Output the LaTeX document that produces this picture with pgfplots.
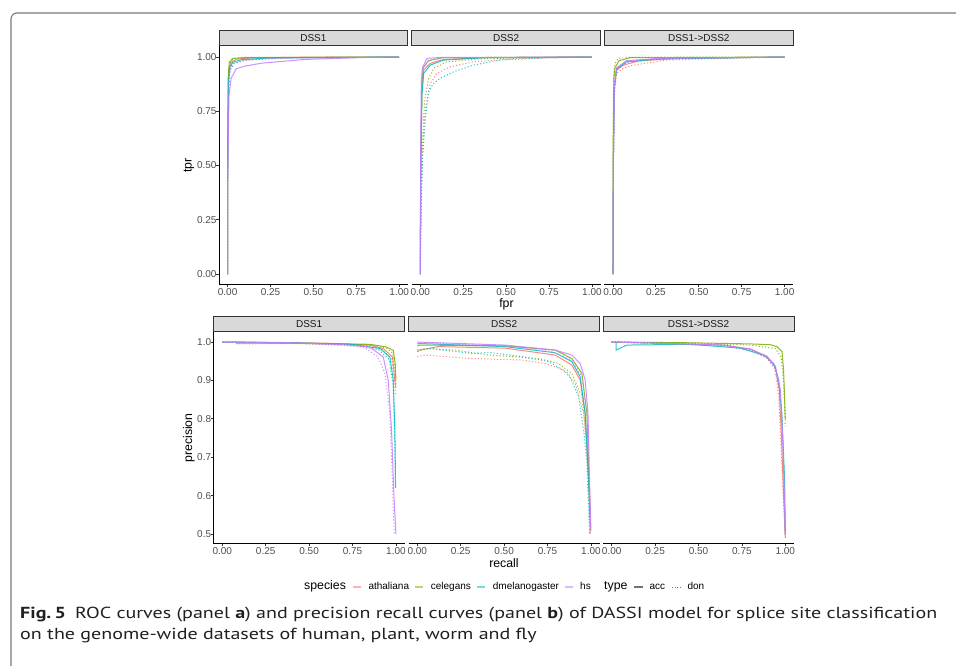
\documentclass[border=0pt]{standalone}
\usepackage{fontspec}
\setmainfont{Liberation Sans}
\newfontfamily\capfont{PT Sans}
\usepackage{graphicx}
\usepackage{pgfplots}
\pgfplotsset{compat=1.18}

\definecolor{cath}{HTML}{F8766D}
\definecolor{ccel}{HTML}{7CAE00}
\definecolor{cdme}{HTML}{00BFC4}
\definecolor{chs}{HTML}{C77CFF}
\definecolor{tickc}{HTML}{333333}
\definecolor{labc}{HTML}{4D4D4D}
\definecolor{stripf}{HTML}{D9D9D9}
\definecolor{framec}{HTML}{7A7A7A}
\definecolor{capc}{HTML}{231F20}

\newcommand\tickfont{\fontsize{10}{11}\selectfont}
\newcommand\titlefont{\fontsize{12.3}{14}\selectfont}

\tikzset{
  ath/.style={draw=cath}, cel/.style={draw=ccel},
  dme/.style={draw=cdme}, hs/.style={draw=chs},
  acc/.style={solid}, don/.style={dash pattern=on 1.1pt off 2.1pt},
}

\pgfplotsset{
  panel/.style={
    scale only axis, anchor=south west,
    xmin=-0.05, xmax=1.05,
    axis x line*=bottom,
    axis line style={line width=1pt, black},
    tick style={tickc, line width=0.8pt},
    major tick length=2.6pt,
    tick align=outside,
    xtick={0,0.25,0.5,0.75,1},
    xticklabels={0.00,0.25,0.50,0.75,1.00},
    xticklabel style={font=\tickfont, text=labc, inner sep=0pt, anchor=north, yshift=-0.7pt},
    yticklabel style={font=\tickfont, text=labc, inner sep=0pt, anchor=east, xshift=0.3pt},
    every axis plot/.append style={line width=1pt, draw opacity=0.85, mark=none},
  },
  roc/.style={panel, width=188.8pt, height=238.7pt, ymin=-0.05, ymax=1.05},
  pr/.style={panel, width=191pt, height=211.2pt, ymin=0.475, ymax=1.025},
  first/.style={axis y line*=left},
  rest/.style={axis y line=none, ytick=\empty},
}

\begin{document}
\begin{tikzpicture}[x=1pt, y=1pt]
\useasboundingbox (0,0) rectangle (956,666);

% ---------- ROC, DSS1
\begin{axis}[roc, first, at={(219pt,381.1pt)},
  ytick={0,0.25,0.5,0.75,1}, yticklabels={0.00,0.25,0.50,0.75,1.00}]
\addplot[ath,acc] coordinates {(0,0)(0.001,0.5)(0.004,0.86)(0.01,0.95)(0.02,0.975)(0.05,0.99)(0.15,0.996)(0.4,0.999)(1,1)};
\addplot[ath,don] coordinates {(0,0)(0.001,0.45)(0.005,0.85)(0.012,0.94)(0.03,0.972)(0.08,0.986)(0.2,0.994)(0.5,0.998)(1,1)};
\addplot[cel,acc] coordinates {(0,0)(0.001,0.6)(0.004,0.92)(0.01,0.975)(0.03,0.994)(0.1,0.998)(1,1)};
\addplot[cel,don] coordinates {(0,0)(0.001,0.55)(0.005,0.9)(0.012,0.966)(0.03,0.99)(0.1,0.997)(1,1)};
\addplot[dme,acc] coordinates {(0,0)(0.001,0.5)(0.005,0.88)(0.012,0.95)(0.03,0.976)(0.08,0.988)(0.25,0.996)(1,1)};
\addplot[dme,don] coordinates {(0,0)(0.001,0.45)(0.006,0.86)(0.015,0.94)(0.04,0.97)(0.1,0.985)(0.3,0.995)(1,1)};
\addplot[hs,don] coordinates {(0,0)(0.001,0.5)(0.006,0.86)(0.015,0.94)(0.04,0.975)(0.1,0.985)(0.3,0.994)(1,1)};
\addplot[hs,acc] coordinates {(0,0)(0.001,0.45)(0.008,0.82)(0.02,0.9)(0.05,0.946)(0.1,0.958)(0.2,0.972)(0.45,0.989)(0.8,0.998)(1,1)};
\end{axis}

% ---------- ROC, DSS2
\begin{axis}[roc, rest, at={(411.7pt,381.1pt)}]
\addplot[ath,acc] coordinates {(0,0)(0.003,0.5)(0.01,0.85)(0.02,0.94)(0.058,0.971)(0.136,0.989)(0.37,0.997)(1,1)};
\addplot[ath,don] coordinates {(0,0)(0.004,0.3)(0.012,0.55)(0.025,0.72)(0.039,0.8)(0.058,0.877)(0.097,0.925)(0.174,0.955)(0.31,0.978)(0.56,0.993)(1,1)};
\addplot[cel,acc] coordinates {(0,0)(0.003,0.55)(0.009,0.88)(0.017,0.95)(0.048,0.983)(0.13,0.997)(1,1)};
\addplot[cel,don] coordinates {(0,0)(0.004,0.35)(0.012,0.6)(0.022,0.75)(0.029,0.817)(0.048,0.9)(0.078,0.948)(0.155,0.978)(0.37,0.993)(1,1)};
\addplot[dme,acc] coordinates {(0,0)(0.003,0.5)(0.01,0.83)(0.02,0.925)(0.058,0.963)(0.136,0.986)(0.37,0.997)(1,1)};
\addplot[dme,don] coordinates {(0,0)(0.005,0.3)(0.015,0.55)(0.029,0.71)(0.048,0.84)(0.078,0.879)(0.116,0.902)(0.194,0.932)(0.31,0.963)(0.465,0.986)(0.756,0.997)(1,1)};
\addplot[hs,acc] coordinates {(0,0)(0.002,0.55)(0.006,0.88)(0.012,0.95)(0.039,0.994)(0.12,0.998)(1,1)};
\addplot[hs,don] coordinates {(0,0)(0.002,0.5)(0.007,0.85)(0.017,0.946)(0.048,0.986)(0.15,0.997)(1,1)};
\end{axis}

% ---------- ROC, DSS1->DSS2
\begin{axis}[roc, rest, at={(604.4pt,381.1pt)}]
\addplot[ath,acc] coordinates {(0,0)(0.002,0.5)(0.008,0.86)(0.021,0.94)(0.06,0.963)(0.157,0.983)(0.4,0.994)(1,1)};
\addplot[ath,don] coordinates {(0,0)(0.002,0.45)(0.009,0.83)(0.021,0.925)(0.06,0.948)(0.118,0.963)(0.31,0.986)(0.6,0.993)(1,1)};
\addplot[cel,acc] coordinates {(0,0)(0.001,0.6)(0.005,0.9)(0.012,0.95)(0.035,0.983)(0.1,0.997)(1,1)};
\addplot[cel,don] coordinates {(0,0)(0.001,0.65)(0.004,0.92)(0.012,0.971)(0.031,0.994)(0.09,0.999)(1,1)};
\addplot[dme,acc] coordinates {(0,0)(0.002,0.5)(0.008,0.86)(0.021,0.945)(0.079,0.978)(0.27,0.992)(1,1)};
\addplot[dme,don] coordinates {(0,0)(0.002,0.48)(0.008,0.85)(0.021,0.94)(0.079,0.976)(0.27,0.991)(1,1)};
\addplot[hs,acc] coordinates {(0,0)(0.002,0.5)(0.008,0.87)(0.021,0.95)(0.079,0.983)(0.27,0.994)(1,1)};
\addplot[hs,don] coordinates {(0,0)(0.002,0.5)(0.008,0.86)(0.021,0.948)(0.079,0.981)(0.27,0.993)(1,1)};
\end{axis}

% ---------- PR, DSS1
\begin{axis}[pr, first, at={(213.6pt,122.4pt)},
  ytick={0.5,0.6,0.7,0.8,0.9,1}, yticklabels={0.5,0.6,0.7,0.8,0.9,1.0}]
\addplot[ath,acc] coordinates {(0,1)(0.3,0.999)(0.6,0.997)(0.85,0.992)(0.927,0.983)(0.98,0.961)(0.994,0.9)(1,0.88)};
\addplot[ath,don] coordinates {(0,1)(0.3,0.998)(0.6,0.996)(0.85,0.99)(0.92,0.98)(0.975,0.955)(0.992,0.9)(1,0.86)};
\addplot[cel,acc] coordinates {(0.08,0.997)(0.4,0.997)(0.85,0.994)(0.946,0.987)(0.985,0.978)(0.996,0.943)(1,0.9)};
\addplot[cel,don] coordinates {(0.08,0.995)(0.4,0.996)(0.85,0.993)(0.94,0.985)(0.98,0.972)(0.995,0.93)(1,0.89)};
\addplot[dme,acc] coordinates {(0,1)(0.4,0.998)(0.75,0.994)(0.908,0.983)(0.965,0.961)(0.985,0.9)(0.994,0.768)(0.998,0.62)};
\addplot[dme,don] coordinates {(0,1)(0.4,0.997)(0.75,0.992)(0.9,0.98)(0.96,0.955)(0.983,0.89)(0.993,0.75)(0.997,0.65)};
\addplot[hs,acc] coordinates {(0,1)(0.4,0.998)(0.7,0.993)(0.85,0.987)(0.927,0.961)(0.956,0.9)(0.975,0.768)(0.989,0.594)(1,0.5)};
\addplot[hs,don] coordinates {(0,1)(0.4,0.997)(0.65,0.992)(0.812,0.987)(0.898,0.961)(0.937,0.917)(0.965,0.812)(0.98,0.637)(0.99,0.5)};
\end{axis}

% ---------- PR, DSS2
\begin{axis}[pr, rest, at={(408.6pt,122.4pt)}]
\addplot[ath,acc] coordinates {(0,0.975)(0.015,0.979)(0.121,0.988)(0.506,0.984)(0.794,0.966)(0.89,0.94)(0.938,0.901)(0.967,0.814)(0.987,0.641)(0.996,0.5)};
\addplot[ath,don] coordinates {(0,0.962)(0.044,0.966)(0.313,0.957)(0.602,0.953)(0.737,0.944)(0.842,0.927)(0.91,0.892)(0.958,0.814)(0.983,0.684)(1,0.502)};
\addplot[cel,acc] coordinates {(0,0.99)(0.015,0.992)(0.506,0.99)(0.794,0.979)(0.89,0.957)(0.948,0.918)(0.977,0.814)(0.996,0.55)};
\addplot[cel,don] coordinates {(0,0.975)(0.044,0.983)(0.217,0.979)(0.41,0.966)(0.698,0.957)(0.813,0.944)(0.89,0.918)(0.948,0.858)(0.977,0.74)(0.996,0.51)};
\addplot[dme,acc] coordinates {(0,0.995)(0.015,0.996)(0.506,0.988)(0.794,0.972)(0.89,0.949)(0.938,0.91)(0.967,0.814)(0.992,0.59)};
\addplot[dme,don] coordinates {(0,0.98)(0.083,0.983)(0.313,0.97)(0.41,0.973)(0.602,0.962)(0.756,0.949)(0.871,0.918)(0.929,0.858)(0.958,0.771)(0.977,0.684)(0.992,0.502)};
\addplot[hs,acc] coordinates {(0,1)(0.121,0.998)(0.506,0.992)(0.794,0.979)(0.89,0.966)(0.938,0.944)(0.967,0.901)(0.983,0.814)(0.992,0.641)(1,0.51)};
\addplot[hs,don] coordinates {(0,0.998)(0.506,0.99)(0.775,0.975)(0.89,0.953)(0.948,0.91)(0.977,0.814)(0.998,0.51)};
\end{axis}

% ---------- PR, DSS1->DSS2
\begin{axis}[pr, rest, at={(603pt,122.4pt)}]
\addplot[ath,acc] coordinates {(0,1)(0.26,0.997)(0.644,0.992)(0.798,0.981)(0.894,0.962)(0.942,0.936)(0.965,0.875)(0.978,0.75)(0.99,0.6)(1,0.49)};
\addplot[ath,don] coordinates {(0,1)(0.26,0.996)(0.644,0.99)(0.798,0.978)(0.894,0.958)(0.94,0.93)(0.962,0.86)(0.975,0.73)(0.99,0.58)(1,0.49)};
\addplot[cel,acc] coordinates {(0,1)(0.452,0.998)(0.798,0.995)(0.913,0.993)(0.952,0.988)(0.981,0.975)(0.99,0.927)(0.996,0.85)(1,0.8)};
\addplot[cel,don] coordinates {(0,1)(0.452,0.997)(0.798,0.992)(0.942,0.983)(0.975,0.962)(0.99,0.9)(1,0.78)};
\addplot[dme,acc] coordinates {(0.025,1)(0.025,0.979)(0.087,0.992)(0.452,0.994)(0.74,0.984)(0.875,0.966)(0.933,0.944)(0.962,0.901)(0.98,0.814)(0.996,0.64)(1,0.5)};
\addplot[dme,don] coordinates {(0,1)(0.26,0.997)(0.644,0.991)(0.798,0.979)(0.894,0.96)(0.942,0.935)(0.971,0.875)(0.987,0.727)(1,0.5)};
\addplot[hs,acc] coordinates {(0,1)(0.26,0.997)(0.644,0.992)(0.798,0.982)(0.894,0.963)(0.942,0.937)(0.971,0.875)(0.987,0.727)(1,0.497)};
\addplot[hs,don] coordinates {(0,1)(0.26,0.996)(0.644,0.99)(0.798,0.98)(0.894,0.96)(0.945,0.93)(0.972,0.86)(0.988,0.7)(1,0.5)};
\end{axis}

% ---------- facet strips
\tikzset{strip/.style={fill=stripf, draw=tickc, line width=0.9pt},
         striptext/.style={font=\tickfont, text=black!90}}
\draw[strip] (219,620.3) rectangle (407.8,635.3);
\draw[strip] (411.7,620.3) rectangle (600.5,635.3);
\draw[strip] (604.4,620.3) rectangle (793.2,635.3);
\node[striptext] at (313.4,627.8) {DSS1};
\node[striptext] at (506.1,627.8) {DSS2};
\node[striptext] at (698.8,627.8) {DSS1->DSS2};
\draw[strip] (213.6,334.3) rectangle (404.6,349.3);
\draw[strip] (408.6,334.3) rectangle (599.6,349.3);
\draw[strip] (603,334.3) rectangle (794,349.3);
\node[striptext] at (309.1,341.8) {DSS1};
\node[striptext] at (504.1,341.8) {DSS2};
\node[striptext] at (698.5,341.8) {DSS1->DSS2};

% ---------- axis titles
\node[font=\titlefont, rotate=90] at (189,500.5) {tpr};
\node[font=\titlefont, rotate=90] at (189,228) {precision};
\node[font=\titlefont] at (506.5,361.8) {fpr};
\node[font=\titlefont] at (504,103) {recall};

% ---------- legend
\tikzset{lt/.style={font=\tickfont, anchor=mid west, inner sep=0pt},
         lkey/.style={line width=1.7pt, draw opacity=0.55}}
\node[font=\titlefont, anchor=mid west, inner sep=0pt] at (304,78.7) {species};
\draw[lkey, cath] (353.3,78.7) -- (361,78.7);
\node[lt] at (368.3,78.7) {athaliana};
\draw[lkey, ccel] (415,78.7) -- (423.3,78.7);
\node[lt] at (430.7,78.7) {celegans};
\draw[lkey, cdme] (477.3,78.7) -- (485.3,78.7);
\node[lt] at (492.7,78.7) {dmelanogaster};
\draw[lkey, chs] (565,78.7) -- (573.3,78.7);
\node[lt] at (580,78.7) {hs};
\node[font=\titlefont, anchor=mid west, inner sep=0pt] at (604,78.7) {type};
\draw[lkey, black!85, draw opacity=0.65] (634,78.7) -- (642.7,78.7);
\node[lt] at (649.3,78.7) {acc};
\draw[lkey, black!85, draw opacity=0.65, line width=1.1pt, dash pattern=on 1.1pt off 1.3pt] (672.3,78.7) -- (680.7,78.7);
\node[lt] at (687.3,78.7) {don};

% ---------- frame and caption
\draw[framec, line width=1.1pt, rounded corners=6pt] (11,-20) -- (11,653) -- (990,653);
\node[anchor=base west, inner sep=0pt, text=capc] at (20,47.7) {\resizebox{917pt}{\height}{\capfont\fontsize{16}{21.4}\selectfont
  \begin{tabular}[t]{@{}l@{}}
  \textbf{Fig.\,5}\hspace{0.45em}ROC curves (panel \textbf{a}) and precision recall curves (panel \textbf{b}) of DASSI model for splice site classification\\
  on the genome-wide datasets of human, plant, worm and fly
  \end{tabular}}};
\end{tikzpicture}
\end{document}
